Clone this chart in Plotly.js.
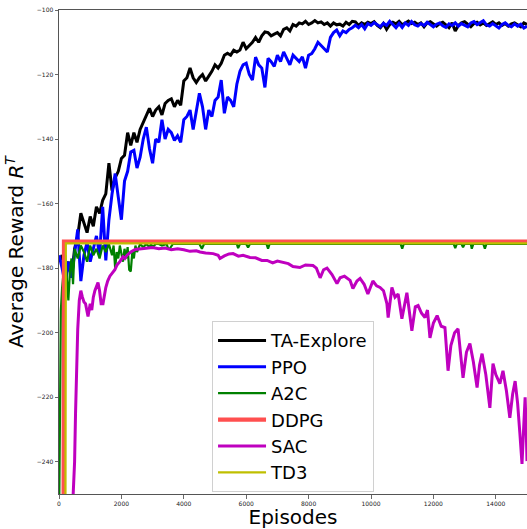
<!DOCTYPE html>
<html>
<head>
<meta charset="utf-8">
<script src="https://cdn.plot.ly/plotly-3.0.1.min.js"></script>
<style>html,body{margin:0;padding:0;background:#fff;}#chart{width:527px;height:529px;}</style>
</head>
<body>
<div id="chart"></div>
<script>
// Episode grid for the dense curves (every 100 episodes)
const episodes = Array.from({length: 151}, (_, i) => i * 100);

const taExplore = [
  -178, -176, -181, -178, -183, -174, -170, -163, -166, -169,
  -164, -167, -161, -163, -159, -157, -147.5, -156, -152, -150,
  -146, -145, -138, -142, -138, -141, -137, -135, -133, -130.5,
  -133, -131, -130, -132.5, -129, -128, -127.5, -130, -128, -129.5,
  -122, -121, -118, -121, -122.5, -121, -120, -122, -120.5, -119,
  -117, -118, -116.5, -114, -113.4, -114, -112.5, -113, -112.4, -110,
  -112, -111, -110, -108.5, -110, -108, -106.8, -107, -108, -107.5,
  -107, -108, -106, -105.5, -106.5, -104.5, -105, -104, -104.3, -103.5,
  -104.5, -104, -103.3, -104, -103.7, -104.5, -104, -105, -104, -104.6,
  -104.4, -105, -103.8, -104.5, -103.5, -103.7,
  -104.8, -104, -104.5, -103.8, -104.2,
  -103.6, -104.8, -105.5, -104.2, -106,
  -104.5, -103.8, -104.3, -103.5, -104.6,
  -104, -103.4, -104.2, -103.8, -104.5,
  -104, -105.2, -104, -103.6, -104.4,
  -105, -104.2, -103.8, -104.6, -105.5,
  -104, -106.5, -104.8, -104, -103.6,
  -104.5, -105.2, -104.2, -103.8, -104.6,
  -104, -104.8, -104.2, -103.7, -104.5,
  -104, -104.8, -104.2, -105, -104.3,
  -104, -104.6, -105.2, -104, -104.5
];

const ppo = [
  -176, -180, -185, -178, -183, -175, -168, -184, -176, -172,
  -178, -174, -170, -176, -161, -177.6, -165, -157, -150.7, -158,
  -165, -153, -150, -144, -143.5, -149, -145.6, -140, -136.3, -143,
  -147.5, -140, -141, -134, -140, -137, -138, -140.4, -139, -141,
  -134, -133, -131, -137, -132, -125.8, -130, -137, -131, -133,
  -128, -127, -121.7, -132, -127, -128, -130, -123, -119, -117,
  -116.5, -120, -121.7, -114.6, -117, -118, -124, -115, -116, -117.5,
  -114, -116, -113, -115, -117, -114, -115, -116, -114.5, -118,
  -114, -113.5, -112, -110, -111, -112, -113, -108.5, -107, -106.2,
  -108, -106.5, -107, -106, -105.5, -104.7, -105.5,
  -104.5, -105.8, -104.2, -104.8,
  -103.9, -104.6, -105.2, -104.1, -104.8,
  -103.5, -104.5, -105.5, -104.2, -105.4,
  -104, -104.8, -103.6, -104.6, -105,
  -104.2, -104.8, -103.8, -104.5, -105.2,
  -104.4, -104, -104.9, -105.4, -104.3,
  -104.8, -104, -105, -104.2, -104.6,
  -105.2, -104, -103.6, -104.5, -104,
  -103.3, -104.6, -105, -104.2, -104.8,
  -105.6, -104.5, -104, -104.8, -105.2,
  -104.3, -105, -104.4, -105.6, -105
];

const a2cX = [0, 30, 60, 100, 150, 200, 250, 300, 350, 400, 450, 500, 600, 700, 800, 900, 1000, 1100, 1200, 1300,
  1400, 1500, 1600, 1700, 1750, 1800, 1850, 1900, 1950, 2000, 2050, 2100, 2150, 2200, 2250, 2300, 2350, 2400, 2450, 2500,
  2600, 2700, 2800, 2900, 2950, 3000, 3100, 3200, 3300, 3450, 3500, 3550, 3650, 3800, 4000, 4500, 4580, 4650, 5000, 5700,
  5740, 5800, 6000, 6060, 6120, 6650, 6700, 6750, 8000, 10950, 11000, 11050, 12650, 12700, 12750, 12900, 12950, 13000, 13200, 13230,
  13280, 13600, 13650, 13700, 15000];
const a2c = [-262, -205, -193, -186, -180, -176, -183, -190, -181, -177, -185, -174, -177, -173, -175, -178, -173, -176, -174, -177,
  -173, -175, -172.5, -176, -173, -180, -175, -177, -173, -176, -178, -174, -177, -173.5, -180.5, -181, -175, -177, -173, -175,
  -172.5, -173.5, -172.5, -173.5, -172.5, -173.5, -172.5, -172.5, -173, -172.5, -174, -174, -172.5, -172.5, -172.5, -172.5, -174, -172.5, -172.5, -172.5,
  -173.8, -172.5, -172.5, -173.6, -172.5, -172.5, -174, -172.5, -172.5, -172.5, -174, -172.5, -172.5, -173.8, -172.5, -172.5, -173.5, -172.5, -172.5, -174,
  -172.5, -172.5, -174, -172.5, -172.5];

const ddpgX = [140, 160, 15000];
const ddpg = [-300, -171.8, -171.8];

const td3X = [200, 220, 15000];
const td3 = [-300, -172.3, -172.3];

const sacX = [400, 450, 500, 530, 560, 600, 650, 700, 750, 800, 850, 930, 1000, 1050, 1100, 1150, 1250, 1300, 1350, 1410,
  1500, 1560, 1630, 1700, 1790, 1860, 1950, 2050, 2110, 2180, 2300, 2440, 2600, 2800, 3000, 3200, 3400, 3600, 3800, 4000,
  4200, 4400, 4520, 4700, 4940, 5100, 5160, 5300, 5450, 5580, 5750, 5900, 6120, 6300, 6500, 6670, 6850, 7000, 7180, 7350,
  7500, 7720, 7900, 8140, 8250, 8370, 8480, 8590, 8750, 8910, 9010, 9150, 9330, 9420, 9550, 9650, 9780, 9900, 10060, 10180,
  10290, 10400, 10510, 10550, 10670, 10770, 10870, 10990, 11150, 11230, 11310, 11420, 11510, 11620, 11730, 11810, 11890, 12000, 12120, 12250,
  12370, 12470, 12560, 12680, 12790, 12950, 13060, 13170, 13280, 13400, 13480, 13560, 13680, 13810, 13910, 14000, 14130, 14230, 14340, 14450,
  14540, 14620, 14700, 14770, 14840, 14900, 14940, 14980, 15000];
const sac = [-262, -250, -240, -225, -210, -199, -190, -187, -189, -190.5, -191, -195, -191, -193, -189, -187, -184.5, -187, -191, -191,
  -186, -184, -182.5, -181.5, -180.5, -179, -178, -176.5, -177, -176, -175, -174.2, -174, -173.8, -173.6, -174, -173.8, -174.3, -174, -174.3,
  -174.8, -174.6, -175, -175.3, -175.5, -176, -177, -176.2, -175.6, -175.5, -176.3, -176, -176.7, -176.8, -177.6, -177.6, -178.4, -177.8, -178.3, -178.6,
  -179.5, -179.8, -179, -179.2, -180, -183, -180.5, -180, -182, -184.8, -183, -182.5, -183.8, -186.3, -184, -183.2, -185, -188, -184, -185.5,
  -186, -187, -191, -195.3, -186, -189, -188, -195.7, -187.6, -193, -199.4, -192, -191.6, -194, -195.3, -193, -201.6, -197, -194.7, -198,
  -198.4, -211.8, -204, -200, -198.8, -214, -206, -203.4, -209, -217, -210, -206.5, -213, -223.3, -209.6, -213, -215.8, -211.8, -218, -226.4,
  -219, -215, -222, -231, -240.7, -228, -220, -232, -239.8];

const names = ['TA-Explore', 'PPO', 'A2C', 'DDPG', 'SAC', 'TD3'];
const colors = ['#000000', '#0000ff', '#008000', '#ff4f4f', '#bf00bf', '#bfbf00'];
const widths = [3, 3, 2.2, 4.2, 3, 2.2];

const xs = [episodes, episodes, a2cX, ddpgX, sacX, td3X];
const ys = [taExplore, ppo, a2c, ddpg, sac, td3];

const traces = names.map((n, i) => ({
  x: xs[i], y: ys[i], name: n, type: 'scatter', mode: 'lines',
  line: {color: colors[i], width: widths[i]}
}));

const xTicks = [0, 2000, 4000, 6000, 8000, 10000, 12000, 14000];
const yTicks = [-240, -220, -200, -180, -160, -140, -120, -100];

const layout = {
  width: 527, height: 529,
  margin: {l: 59, r: 0, t: 10, b: 35},
  paper_bgcolor: '#fff', plot_bgcolor: '#fff',
  font: {family: 'DejaVu Sans', color: '#222'},
  showlegend: true,
  xaxis: {
    range: [0, 15000], tickvals: xTicks, ticktext: xTicks.map(String),
    ticks: 'outside', ticklen: 3.5, tickwidth: 0.8, tickcolor: '#444',
    tickfont: {size: 6, family: 'DejaVu Sans', color: '#222'},
    showline: true, linecolor: '#555', linewidth: 1, mirror: true,
    showgrid: false, zeroline: false,
    title: {text: 'Episodes', font: {size: 20, family: 'DejaVu Sans', color: '#000'}, standoff: 10}
  },
  yaxis: {
    range: [-250, -100], tickvals: yTicks,
    ticks: 'outside', ticklen: 3.5, tickwidth: 0.8, tickcolor: '#444',
    tickfont: {size: 6, family: 'DejaVu Sans', color: '#222'},
    showline: true, linecolor: '#555', linewidth: 1,
    showgrid: false, zeroline: false,
    title: {text: 'Average Reward <i>R</i><sup><i>T</i></sup>', font: {size: 20, family: 'DejaVu Sans', color: '#000'}, standoff: 7}
  },
  legend: {
    x: 0.327, y: 0.357, xanchor: 'left', yanchor: 'top',
    bgcolor: 'rgba(255,255,255,0.85)', bordercolor: '#d0d0d0', borderwidth: 1,
    font: {size: 18, family: 'DejaVu Sans', color: '#000'},
    itemwidth: 48, tracegroupgap: 0
  }
};

Plotly.newPlot('chart', traces, layout, {displayModeBar: false, staticPlot: true});
</script>
</body>
</html>
